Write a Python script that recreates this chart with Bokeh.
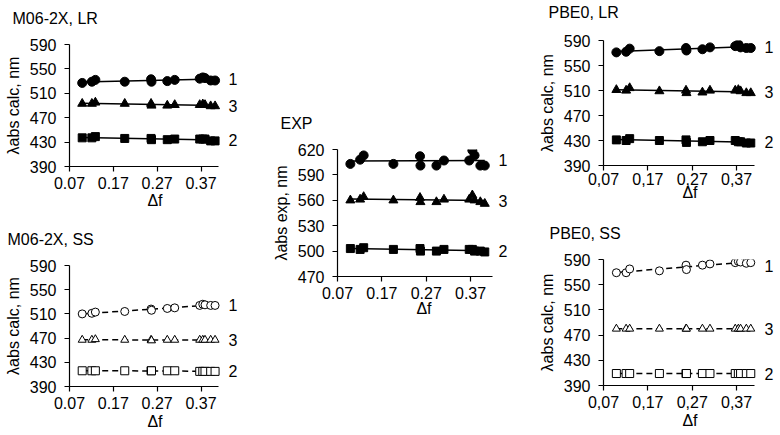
import numpy as np
from bokeh.plotting import figure
from bokeh.layouts import row, column
from bokeh.models import FixedTicker, Label, Spacer, Range1d, Title
from bokeh.embed import file_html
from bokeh.resources import INLINE

FONT = "Liberation Sans"
FS = "16px"

# Δf (solvent polarity function) for the solvents
dF = [0.099, 0.121, 0.129, 0.196, 0.256, 0.257, 0.293, 0.310, 0.367, 0.374, 0.379, 0.392, 0.402]

# M06-2X, LR
m06_lr_1 = [527, 529, 532, 529, 533, 529, 530, 532, 534, 536, 535, 531, 531]
m06_lr_3 = [493, 493, 495, 493, 493, 490, 490, 491, 491, 492, 491, 489, 489]
m06_lr_2 = [437, 437, 439, 436, 436, 434, 434, 435, 435, 435, 435, 432, 432]

# M06-2X, SS
m06_ss_1 = [510, 511, 513, 514, 518, 516, 519, 520, 524, 526, 525, 524, 524]
m06_ss_3 = [467, 467, 468, 467, 467, 466, 467, 467, 467, 467, 467, 467, 467]
m06_ss_2 = [416, 416, 416, 416, 416, 416, 416, 416, 415, 415, 415, 415, 415]

# EXP
exp_1 = [603, 608, 613, 603, 612, 601, 601, 607, 607, 619, 613, 601, 601]
exp_3 = [560, 561, 564, 560, 563, 558, 558, 561, 561, 566, 560, 558, 556]
exp_2 = [503, 502, 504, 502, 503, 500, 500, 502, 502, 502, 500, 500, 499]

# PBE0, LR
pbe_lr_1 = [571, 572, 577, 573, 578, 574, 576, 579, 581, 584, 579, 578, 578]
pbe_lr_3 = [511, 510, 514, 509, 510, 506, 507, 510, 510, 511, 509, 506, 506]
pbe_lr_2 = [431, 430, 433, 430, 431, 427, 428, 430, 430, 428, 428, 426, 426]

# PBE0, SS
pbe_ss_1 = [569, 569, 575, 572, 581, 574, 581, 583, 585, 587, 586, 584, 585]
pbe_ss_3 = [480, 480, 480, 480, 480, 480, 480, 480, 480, 480, 480, 480, 480]
pbe_ss_2 = [409, 409, 409, 409, 409, 409, 409, 409, 409, 409, 409, 409, 409]

series_names = ["1", "3", "2"]
markers = ["circle", "triangle", "square"]

x_ticks = [0.07, 0.17, 0.27, 0.37]
x_labels_dot = ["0.07", "0.17", "0.27", "0.37"]
x_labels_comma = ["0,07", "0,17", "0,27", "0,37"]
y_ticks_calc = [390, 430, 470, 510, 550, 590]
y_ticks_exp = [470, 500, 530, 560, 590, 620]

X_VIEW_END = 0.46     # room for the series numbers
X_LABEL = 0.443       # where the series numbers sit


def panel(title, ylabel, ys, y_ticks, x_end, x_labels, dashed, width, height,
          bl, br, bt, bb, title_off, title_gap, xtick_standoff=5, xlab_standoff=-2):
    p = figure(width=width, height=height,
               x_range=Range1d(x_ticks[0], X_VIEW_END),
               y_range=Range1d(y_ticks[0], y_ticks[-1]),
               output_backend="svg", toolbar_location=None,
               min_border_left=bl, min_border_right=br,
               min_border_top=bt, min_border_bottom=bb)
    # invisible spacer between frame and title, then the title itself
    p.add_layout(Title(text=" ", text_font_size="1px", standoff=title_gap), "above")
    p.add_layout(Title(text=title, align="left", offset=title_off, standoff=0,
                       text_font=FONT, text_font_size=FS, text_font_style="normal",
                       text_color="black"), "above")
    p.outline_line_color = None
    p.xgrid.visible = False
    p.ygrid.visible = False
    p.background_fill_color = "white"
    p.border_fill_color = "white"

    for ax in (p.xaxis[0], p.yaxis[0]):
        ax.axis_line_color = "black"
        ax.axis_line_width = 1.2
        ax.major_tick_line_color = "black"
        ax.major_tick_line_width = 1.2
        ax.major_tick_in = 0
        ax.major_tick_out = 5
        ax.minor_tick_line_color = None
        ax.major_label_text_font = FONT
        ax.major_label_text_font_size = FS
        ax.major_label_text_color = "black"
        ax.axis_label_text_font = FONT
        ax.axis_label_text_font_size = FS
        ax.axis_label_text_font_style = "normal"
        ax.axis_label_text_color = "black"

    p.xaxis.ticker = FixedTicker(ticks=x_ticks)
    p.xaxis.bounds = (x_ticks[0], x_end)
    p.xaxis.major_label_overrides = {t: l for t, l in zip(x_ticks, x_labels)}
    p.xaxis.axis_label = "Δf"
    p.xaxis.major_label_standoff = xtick_standoff
    p.xaxis.axis_label_standoff = xlab_standoff

    p.yaxis.ticker = FixedTicker(ticks=y_ticks)
    p.yaxis.axis_label = ylabel
    p.yaxis.major_label_standoff = 8
    p.yaxis.axis_label_standoff = 5

    ymin, ymax = y_ticks[0], y_ticks[-1]
    pad = 0.055 * (ymax - ymin)   # keep series numbers fully inside the frame
    x = np.array(dF)
    for name, mk, y in zip(series_names, markers, ys):
        y = np.array(y, dtype=float)
        k, b = np.polyfit(x, y, 1)
        xs = [x.min(), x.max()]
        p.line(xs, [k * xs[0] + b, k * xs[1] + b], line_color="black",
               line_width=1.5, line_dash="6 4" if dashed else "solid")
        if dashed:
            size = {"circle": 8, "triangle": 8, "square": 8}[mk]
        else:
            size = {"circle": 9, "triangle": 9, "square": 8}[mk]
        p.scatter(x, y, marker=mk, size=size, line_color="black", line_width=1,
                  fill_color="white" if dashed else "black")
        y_lab = min(max(k * xs[1] + b, ymin + pad), ymax - pad)
        p.add_layout(Label(x=X_LABEL, y=y_lab, text=name,
                           text_align="center", text_baseline="middle",
                           text_font=FONT, text_font_size=FS,
                           text_color="black"))
    return p


p1 = panel("M06-2X, LR", "λabs calc, nm", [m06_lr_1, m06_lr_3, m06_lr_2],
           y_ticks_calc, 0.41, x_labels_dot, False, 262, 222, 69, 22, 44, 56, -57, 15,
           xlab_standoff=0)
p2 = panel("M06-2X, SS", "λabs calc, nm", [m06_ss_1, m06_ss_3, m06_ss_2],
           y_ticks_calc, 0.41, x_labels_dot, True, 262, 213, 69, 22, 43, 49, -62, 15,
           xlab_standoff=1)
p3 = panel("EXP", "λabs exp, nm", [exp_1, exp_3, exp_2],
           y_ticks_exp, 0.42, x_labels_dot, False, 263, 230, 75, 15, 49, 54, -57, 15)
p4 = panel("PBE0, LR", "λabs calc, nm", [pbe_lr_1, pbe_lr_3, pbe_lr_2],
           y_ticks_calc, 0.41, x_labels_comma, False, 255, 218, 78, 3, 40, 53, -55, 17,
           xtick_standoff=2, xlab_standoff=-4)
p5 = panel("PBE0, SS", "λabs calc, nm", [pbe_ss_1, pbe_ss_3, pbe_ss_2],
           y_ticks_calc, 0.41, x_labels_comma, True, 255, 217, 77, 4, 41, 50, -54, 15,
           xlab_standoff=1)

left = column(p1, p2, spacing=0)
mid = column(Spacer(width=263, height=100), p3, Spacer(width=263, height=105), spacing=0)
right = column(p4, p5, spacing=0)
layout = row(left, mid, right, spacing=0)

open("out.html", "w").write(file_html(layout, INLINE))
